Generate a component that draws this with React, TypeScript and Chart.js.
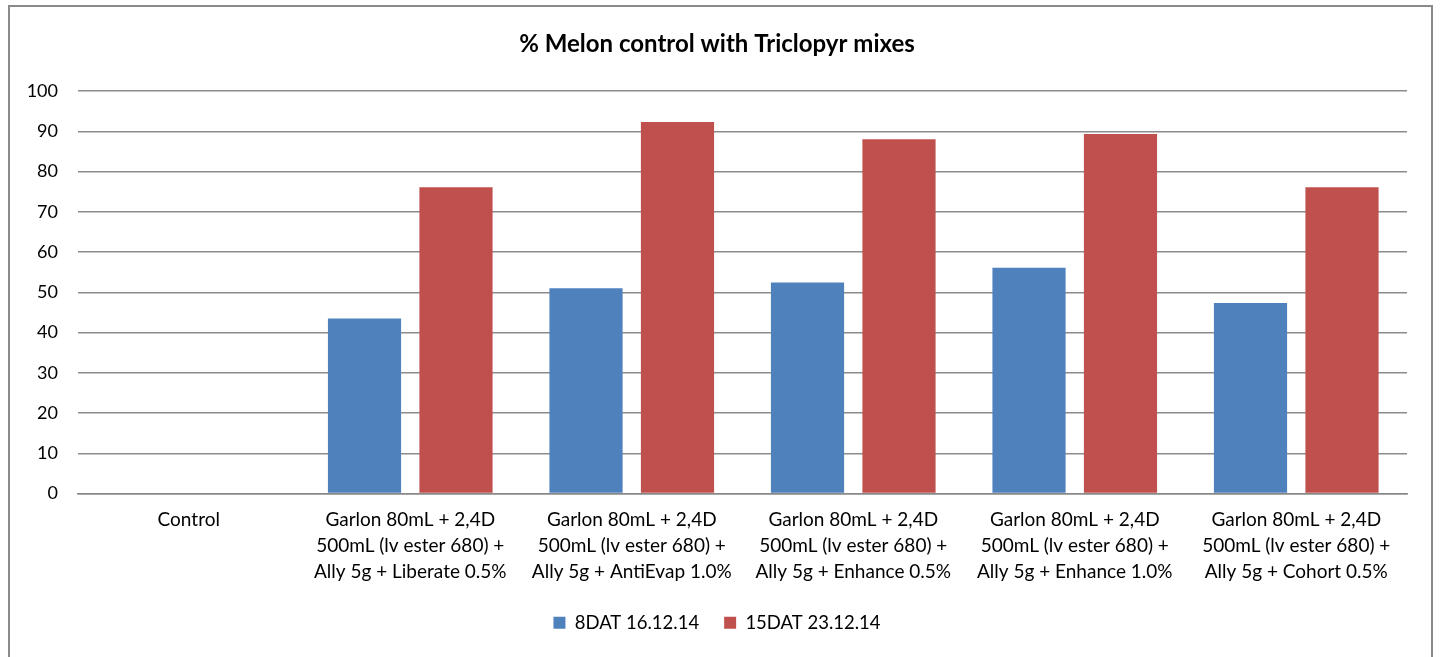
import React, { useEffect, useRef } from "react";
import { Chart, registerables } from "chart.js";

Chart.register(...registerables);

const categories: (string | string[])[] = [
  "Control",
  ["Garlon 80mL + 2,4D", "500mL (lv ester 680) +", "Ally 5g + Liberate 0.5%"],
  ["Garlon 80mL + 2,4D", "500mL (lv ester 680) +", "Ally 5g + AntiEvap 1.0%"],
  ["Garlon 80mL + 2,4D", "500mL (lv ester 680) +", "Ally 5g + Enhance 0.5%"],
  ["Garlon 80mL + 2,4D", "500mL (lv ester 680) +", "Ally 5g + Enhance 1.0%"],
  ["Garlon 80mL + 2,4D", "500mL (lv ester 680) +", "Ally 5g + Cohort 0.5%"],
];
const series8DAT = [0, 43.5, 51, 52.4, 56.1, 47.3];
const series15DAT = [0, 76.1, 92.3, 88, 89.3, 76.1];
const seriesNames = ["8DAT 16.12.14", "15DAT 23.12.14"];
const titleText = "% Melon control with Triclopyr mixes";

const FONT = "Lato, 'Open Sans', sans-serif";

export default function App() {
  const ref = useRef<HTMLCanvasElement | null>(null);
  useEffect(() => {
    if (!ref.current) return;
    const chart = new Chart(ref.current, {
      type: "bar",
      data: {
        labels: categories,
        datasets: [
          {
            label: seriesNames[0],
            data: series8DAT,
            backgroundColor: "#4F81BD",
            borderWidth: 0,
          },
          {
            label: seriesNames[1],
            data: series15DAT,
            backgroundColor: "#C0504D",
            borderWidth: 0,
          },
        ],
      },
      options: {
        animation: false,
        responsive: false,
        maintainAspectRatio: false,
        layout: { padding: { left: 27, right: 34, top: 30, bottom: 15 } },
        datasets: {
          bar: { barPercentage: 0.8, categoryPercentage: 0.826 },
        },
        plugins: {
          title: {
            display: true,
            text: titleText,
            color: "#000",
            font: { family: FONT, size: 24, weight: "bold" },
            padding: { top: 0, bottom: 32.2 },
          },
          legend: {
            display: true,
            position: "bottom",
            labels: {
              boxWidth: 12,
              boxHeight: 12,
              color: "#000",
              font: { family: FONT, size: 18.5 },
              padding: 25,
            },
          },
          tooltip: { enabled: false },
        },
        scales: {
          x: {
            grid: { display: false },
            border: { display: true, color: "#888888", width: 1.5 },
            ticks: {
              color: "#000",
              font: { family: FONT, size: 19, lineHeight: 1.368 },
              padding: 5,
              maxRotation: 0,
              autoSkip: false,
            },
            afterFit: (scale: any) => {
              scale.height = 95;
            },
          },
          y: {
            min: 0,
            max: 100,
            ticks: {
              stepSize: 10,
              color: "#000",
              font: { family: FONT, size: 18 },
              padding: 20,
            },
            grid: { color: "#8c8c8c", lineWidth: 1.5, drawTicks: false },
            border: { display: false },
            afterFit: (scale: any) => {
              scale.width = 51;
            },
          },
        },
      },
    });
    return () => chart.destroy();
  }, []);

  return (
    <div style={{ position: "fixed", left: 0, top: 0, width: 1441, height: 657, background: "#fff" }}>
      <div
        style={{
          position: "absolute",
          left: 8,
          top: 5,
          width: 1425,
          height: 700,
          border: "2px solid #8a8a8a",
          boxSizing: "border-box",
        }}
      />
      <canvas
        ref={ref}
        width={1441}
        height={657}
        style={{ position: "absolute", left: 0, top: 0, width: 1441, height: 657 }}
      />
    </div>
  );
}
